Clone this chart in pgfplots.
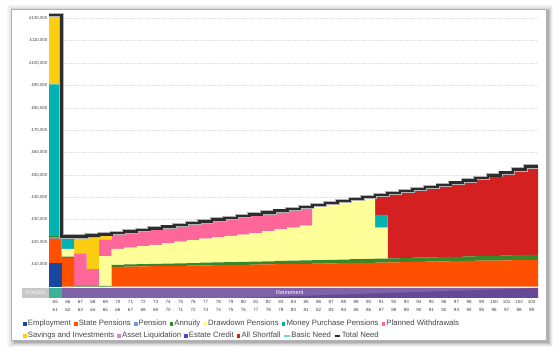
\documentclass[border=0pt]{standalone}
\usepackage{fontspec}
\setmainfont{Liberation Sans}
\usepackage{pgfplots}
\pgfplotsset{compat=1.18}
\usepackage{pgfplotstable}

\definecolor{cEmp}{RGB}{24,72,160}
\definecolor{cState}{RGB}{255,80,0}
\definecolor{cPen}{RGB}{110,160,215}
\definecolor{cAnn}{RGB}{56,135,40}
\definecolor{cDraw}{RGB}{255,255,153}
\definecolor{cMPP}{RGB}{0,178,178}
\definecolor{cPW}{RGB}{255,102,153}
\definecolor{cSav}{RGB}{252,206,18}
\definecolor{cAsset}{RGB}{190,150,200}
\definecolor{cEstate}{RGB}{90,60,220}
\definecolor{cShort}{RGB}{212,32,32}
\definecolor{cBasic}{RGB}{120,210,210}
\definecolor{cNeed}{RGB}{45,45,45}
\definecolor{cBand}{RGB}{128,98,168}
\definecolor{cBandDark}{RGB}{102,72,148}
\definecolor{cBandFirst}{RGB}{60,178,150}
\definecolor{cStages}{RGB}{200,200,200}

\pgfplotstableread{
x emp st pen ann dd mpp pw sav sf
0 10400 11100 800 300 0 67900 0 31000 0
1 0 12900 0 500 3500 5500 0 0 0
2 0 0 0 400 0 0 14500 7600 0
3 0 0 0 400 0 0 7400 15100 0
4 0 0 0 400 13300 0 7200 2500 0
5 0 8900 0 900 7100 0 7100 0 0
6 0 8990 0 940 7570 0 7200 0 0
7 0 9080 0 980 8040 0 7300 0 0
8 0 9170 0 1020 8510 0 7400 0 0
9 0 9260 0 1060 9080 0 7400 0 0
10 0 9350 0 1100 9650 0 7500 0 0
11 0 9440 0 1140 10220 0 7600 0 0
12 0 9530 0 1180 10790 0 7700 0 0
13 0 9620 0 1220 11260 0 7900 0 0
14 0 9710 0 1260 11730 0 8100 0 0
15 0 9800 0 1300 12200 0 8300 0 0
16 0 9890 0 1340 12770 0 8400 0 0
17 0 9980 0 1380 13440 0 8400 0 0
18 0 10070 0 1420 14110 0 8400 0 0
19 0 10160 0 1460 14780 0 8400 0 0
20 0 10250 0 1500 15550 0 8300 0 0
21 0 10340 0 1540 24620 0 0 0 0
22 0 10430 0 1580 25390 0 0 0 0
23 0 10520 0 1620 26160 0 0 0 0
24 0 10610 0 1660 26930 0 0 0 0
25 0 10700 0 1700 27700 0 0 0 0
26 0 10800 0 1740 13860 5700 0 0 8900
27 0 10900 0 1780 0 0 0 0 29220
28 0 11000 0 1820 0 0 0 0 29980
29 0 11100 0 1860 0 0 0 0 30740
30 0 11200 0 1900 0 0 0 0 31500
31 0 11300 0 1940 0 0 0 0 32260
32 0 11400 0 1980 0 0 0 0 33120
33 0 11500 0 2020 0 0 0 0 33980
34 0 11600 0 2060 0 0 0 0 34940
35 0 11700 0 2100 0 0 0 0 36000
36 0 11800 0 2140 0 0 0 0 37060
37 0 11900 0 2180 0 0 0 0 38320
38 0 12000 0 2220 0 0 0 0 39580
}\bars

\pgfplotstableread{
x need
-0.5 121500
0.5 22400
1.5 22500
2.5 22900
3.5 23400
4.5 24000
5.5 24700
6.5 25400
7.5 26100
8.5 26800
9.5 27600
10.5 28400
11.5 29200
12.5 30000
13.5 30800
14.5 31600
15.5 32400
16.5 33200
17.5 34000
18.5 34800
19.5 35600
20.5 36500
21.5 37400
22.5 38300
23.5 39200
24.5 40100
25.5 41000
26.5 41900
27.5 42800
28.5 43700
29.5 44600
30.5 45500
31.5 46500
32.5 47500
33.5 48600
34.5 49800
35.5 51000
36.5 52400
37.5 53800
38.5 53800
}\needtab

\pgfplotsset{
  areaimg/.style={legend image code/.code={\fill[##1] (0pt,-1.4pt) rectangle (2.8pt,1.4pt);}},
  lineimg/.style={legend image code/.code={\draw[##1] (0pt,0pt) -- (4pt,0pt);}},
  common/.style={
    at={(36.75pt,41.775pt)}, anchor=south west,
    scale only axis, width=366.75pt, height=214.95pt,
    xmin=-0.5, xmax=38.5, ymin=-5200, ymax=123000,
    scaled y ticks=false, scaled x ticks=false,
  },
  legstyle/.style={legend style={draw=none, fill=none, inner sep=0pt, outer sep=0pt,
      font=\fontsize{5.8}{7}\selectfont, text=black!72,
      nodes={inner sep=0.85pt},
      /tikz/every even column/.append style={column sep=1.4pt}},
    legend cell align=left, legend columns=-1},
}

\begin{document}
\begin{tikzpicture}
\begin{scope}[x=0.75pt,y=0.75pt]
\path[use as bounding box] (0,0) rectangle (560,354);
\fill[black,opacity=0.04] (7,7) rectangle (553,349);
\fill[black,opacity=0.05] (9,8) rectangle (552,348);
\fill[black,opacity=0.07] (11,9) rectangle (551,346);
\fill[black,opacity=0.09] (13,10) rectangle (550,345);
\fill[black,opacity=0.11] (14,11) rectangle (549,344);
\filldraw[fill=white, draw=black!30, line width=0.5pt] (11,14) rectangle (546,345);
\end{scope}

\begin{axis}[common, legstyle,
  ybar stacked, bar width=1,
  axis line style={draw=none}, tick style={draw=none},
  ymajorgrids, grid style={densely dotted, black!14, line width=0.4pt},
  xtick={0,...,38},
  xticklabels={{65\\61},{66\\62},{67\\63},{68\\64},{69\\65},{70\\66},{71\\67},{72\\68},{73\\69},{74\\70},{75\\71},{76\\72},{77\\73},{78\\74},{79\\75},{80\\76},{81\\77},{82\\78},{83\\79},{84\\80},{85\\81},{86\\82},{87\\83},{88\\84},{89\\85},{90\\86},{91\\87},{92\\88},{93\\89},{94\\90},{95\\91},{96\\92},{97\\93},{98\\94},{99\\95},{100\\96},{101\\97},{102\\98},{103\\99}},
  xticklabel style={align=center, font=\fontsize{3.4}{6}\selectfont, text=black!75, inner sep=1pt},
  ytick={10000,20000,...,120000},
  yticklabels={{£10,000},{£20,000},{£30,000},{£40,000},{£50,000},{£60,000},{£70,000},{£80,000},{£90,000},{£100,000},{£110,000},{£120,000}},
  yticklabel style={font=\fontsize{3.2}{4}\selectfont, text=black!75, inner sep=1.2pt},
  legend style={at={(axis description cs:-0.053,-0.0897)}, anchor=west},
]
\addplot[fill=cEmp, draw=none, areaimg] table[x=x,y=emp] {\bars};
\addlegendentry{Employment}
\addplot[fill=cState, draw=none, areaimg] table[x=x,y=st] {\bars};
\addlegendentry{State Pensions}
\addplot[fill=cPen, draw=none, areaimg] table[x=x,y=pen] {\bars};
\addlegendentry{Pension}
\addplot[fill=cAnn, draw=none, areaimg] table[x=x,y=ann] {\bars};
\addlegendentry{Annuity}
\addplot[fill=cDraw, draw=none, areaimg] table[x=x,y=dd] {\bars};
\addlegendentry{Drawdown Pensions}
\addplot[fill=cMPP, draw=none, areaimg] table[x=x,y=mpp] {\bars};
\addlegendentry{Money Purchase Pensions}
\addplot[fill=cPW, draw=none, areaimg] table[x=x,y=pw] {\bars};
\addlegendentry{Planned Withdrawals}
\addplot[fill=cSav, draw=none, forget plot] table[x=x,y=sav] {\bars};
\addplot[fill=cShort, draw=none, forget plot] table[x=x,y=sf] {\bars};
\end{axis}

\begin{axis}[common, legstyle, clip=false,
  axis line style={draw=none}, xtick=\empty, ytick=\empty,
  legend style={at={(axis description cs:-0.053,-0.1315)}, anchor=west},
]
\addplot[fill=cStages, draw=none, forget plot] coordinates {(-2.65,-400) (-0.5,-400) (-0.5,-5050) (-2.65,-5050)} -- cycle;
\addplot[fill=cBandFirst, draw=none, forget plot] coordinates {(-0.5,-400) (0.5,-400) (0.5,-5050) (-0.5,-5050)} -- cycle;
\addplot[fill=cBand, draw=none, forget plot] coordinates {(0.5,-400) (38.5,-400) (38.5,-5050) (0.5,-5050)} -- cycle;
\addplot[fill=cBandDark, draw=none, forget plot] coordinates {(14.6,-5050) (38.5,-600) (38.5,-5050)} -- cycle;
\node[text=white, font=\fontsize{3.7}{4}\selectfont] at (axis cs:-1.6,-2725) {STAGES};
\node[text=white, font=\fontsize{4.2}{5}\selectfont] at (axis cs:18.7,-2725) {Retirement};
\addplot[const plot, draw=black!30, line width=3.2pt, forget plot] table[x=x,y=need] {\needtab};
\addplot[const plot, draw=cNeed, line width=1.9pt, forget plot] table[x=x,y=need] {\needtab};
\addlegendimage{areaimg, fill=cSav, draw=none}
\addlegendentry{Savings and Investments}
\addlegendimage{areaimg, fill=cAsset, draw=none}
\addlegendentry{Asset Liquidation}
\addlegendimage{areaimg, fill=cEstate, draw=none}
\addlegendentry{Estate Credit}
\addlegendimage{areaimg, fill=cShort, draw=none}
\addlegendentry{All Shortfall}
\addlegendimage{lineimg, draw=cBasic, line width=1pt}
\addlegendentry{Basic Need}
\addlegendimage{lineimg, draw=cNeed, line width=1pt}
\addlegendentry{Total Need}
\end{axis}
\end{tikzpicture}
\end{document}
